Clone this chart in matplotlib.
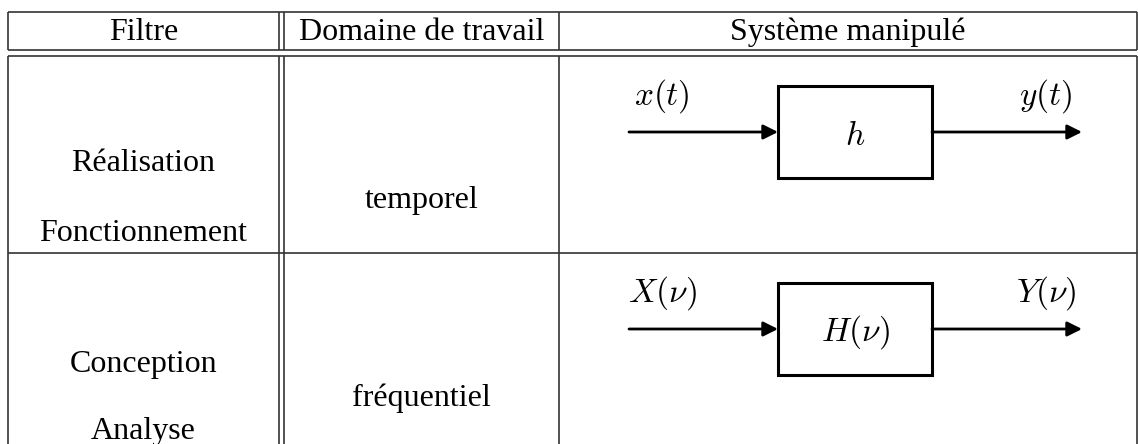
import matplotlib
matplotlib.use("Agg")
import matplotlib.pyplot as plt
from matplotlib.patches import Rectangle

plt.rcParams['mathtext.fontset'] = 'cm'

# ---- content ----
headers = ["Filtre", "Domaine de travail", "Système manipulé"]
row_filters = [["Réalisation", "Fonctionnement"], ["Conception", "Analyse"]]
row_domains = ["temporel", "fréquentiel"]
inputs = [r"$x(t)$", r"$X(\nu)$"]
systems = [r"$h$", r"$H(\nu)$"]
outputs = [r"$y(t)$", r"$Y(\nu)$"]

# ---- layout (pixel coordinates) ----
W, H = 1138, 444
x_left, x_dbl1, x_dbl2, x_col2, x_right = 8, 279, 284, 559, 1137
y_top, y_hdr1, y_hdr2, y_row, y_bot = 12, 50, 56, 253, 444
box_x0, box_x1 = 778, 932
arrow_in_x, arrow_out_x = 629, 1082
box_tops = [86, 283]
box_bots = [178, 375]

fig = plt.figure(figsize=(W / 100, H / 100), dpi=100)
ax = fig.add_axes([0, 0, 1, 1])
ax.set_xlim(0, W)
ax.set_ylim(H, 0)
ax.axis('off')

tc = '#333333'
tlw = 1.2
# horizontal table lines
for y in (y_top, y_hdr1, y_hdr2, y_row):
    ax.plot([x_left, x_right], [y, y], color=tc, lw=tlw, solid_capstyle='butt')
# verticals
for x in (x_left, x_dbl1, x_dbl2, x_col2, x_right):
    ax.plot([x, x], [y_top, y_hdr1], color=tc, lw=tlw, solid_capstyle='butt')
    ax.plot([x, x], [y_hdr2, y_bot + 2], color=tc, lw=tlw, solid_capstyle='butt')

serif = ['Liberation Serif', 'DejaVu Serif']
fs = 23
col_centers = [(x_left + x_dbl1) / 2, (x_dbl2 + x_col2) / 2, (x_col2 + x_right) / 2]
for cx, h in zip(col_centers, headers):
    ax.text(cx, (y_top + y_hdr1) / 2 + 1, h, family=serif, fontsize=fs,
            ha='center', va='center')

row_filter_y = [[163, 233], [364, 431]]
row_domain_y = [200, 398]
for i in range(2):
    for lab, yy in zip(row_filters[i], row_filter_y[i]):
        ax.text(col_centers[0], yy, lab, family=serif, fontsize=fs, ha='center', va='center')
    ax.text(col_centers[1], row_domain_y[i], row_domains[i], family=serif, fontsize=fs,
            ha='center', va='center')

    y0, y1 = box_tops[i], box_bots[i]
    ym = (y0 + y1) / 2
    ax.add_patch(Rectangle((box_x0, y0), box_x1 - box_x0, y1 - y0, fill=False,
                           ec='black', lw=2.2))
    ax.annotate('', xy=(box_x0, ym), xytext=(arrow_in_x, ym),
                arrowprops=dict(arrowstyle='-|>', color='black', lw=2,
                                mutation_scale=22, shrinkA=0, shrinkB=0))
    ax.annotate('', xy=(arrow_out_x, ym), xytext=(box_x1, ym),
                arrowprops=dict(arrowstyle='-|>', color='black', lw=2,
                                mutation_scale=22, shrinkA=0, shrinkB=0))
    ax.text(662, ym - 36, inputs[i], fontsize=24, ha='center', va='center')
    ax.text(1046, ym - 36, outputs[i], fontsize=24, ha='center', va='center')
    ax.text((box_x0 + box_x1) / 2, ym + 3, systems[i], fontsize=24, ha='center', va='center')

fig.savefig('out.png', dpi=100)
